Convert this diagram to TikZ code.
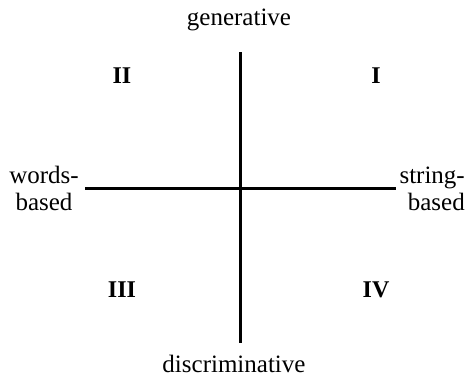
\documentclass[tikz,border=0pt]{standalone}
\usepackage{fontspec}
\setmainfont{Liberation Serif}
\begin{document}
\begin{tikzpicture}[x=1pt,y=-1pt,
  lbl/.style={inner sep=0pt,font=\fontsize{25}{27}\selectfont},
  quad/.style={inner sep=0pt,font=\fontsize{24}{27}\selectfont\bfseries,anchor=base},
  axis/.style={line width=3pt,black}]
\useasboundingbox (0,0) rectangle (469,381);
\coordinate (vt) at (240,52);
\coordinate (vb) at (240,343);
\coordinate (hl) at (85,188);
\coordinate (hr) at (396,188);
\draw[axis] (vt) -- (vb);
\draw[axis] (hl) -- (hr);
\node[lbl,anchor=base] (gen) at (239,25) {generative};
\node[lbl,anchor=base] (dis) at (234,372) {discriminative};
\node[lbl,anchor=base,align=center] (wb) at (44,210) {words-\\based};
\node[lbl,anchor=base east,align=right] (sb) at (465,210) {string-\\based};
\node[quad] (q2) at (122,83) {II};
\node[quad] (q1) at (376,83) {I};
\node[quad] (q3) at (122,297) {III};
\node[quad] (q4) at (376,297) {IV};
\end{tikzpicture}
\end{document}
